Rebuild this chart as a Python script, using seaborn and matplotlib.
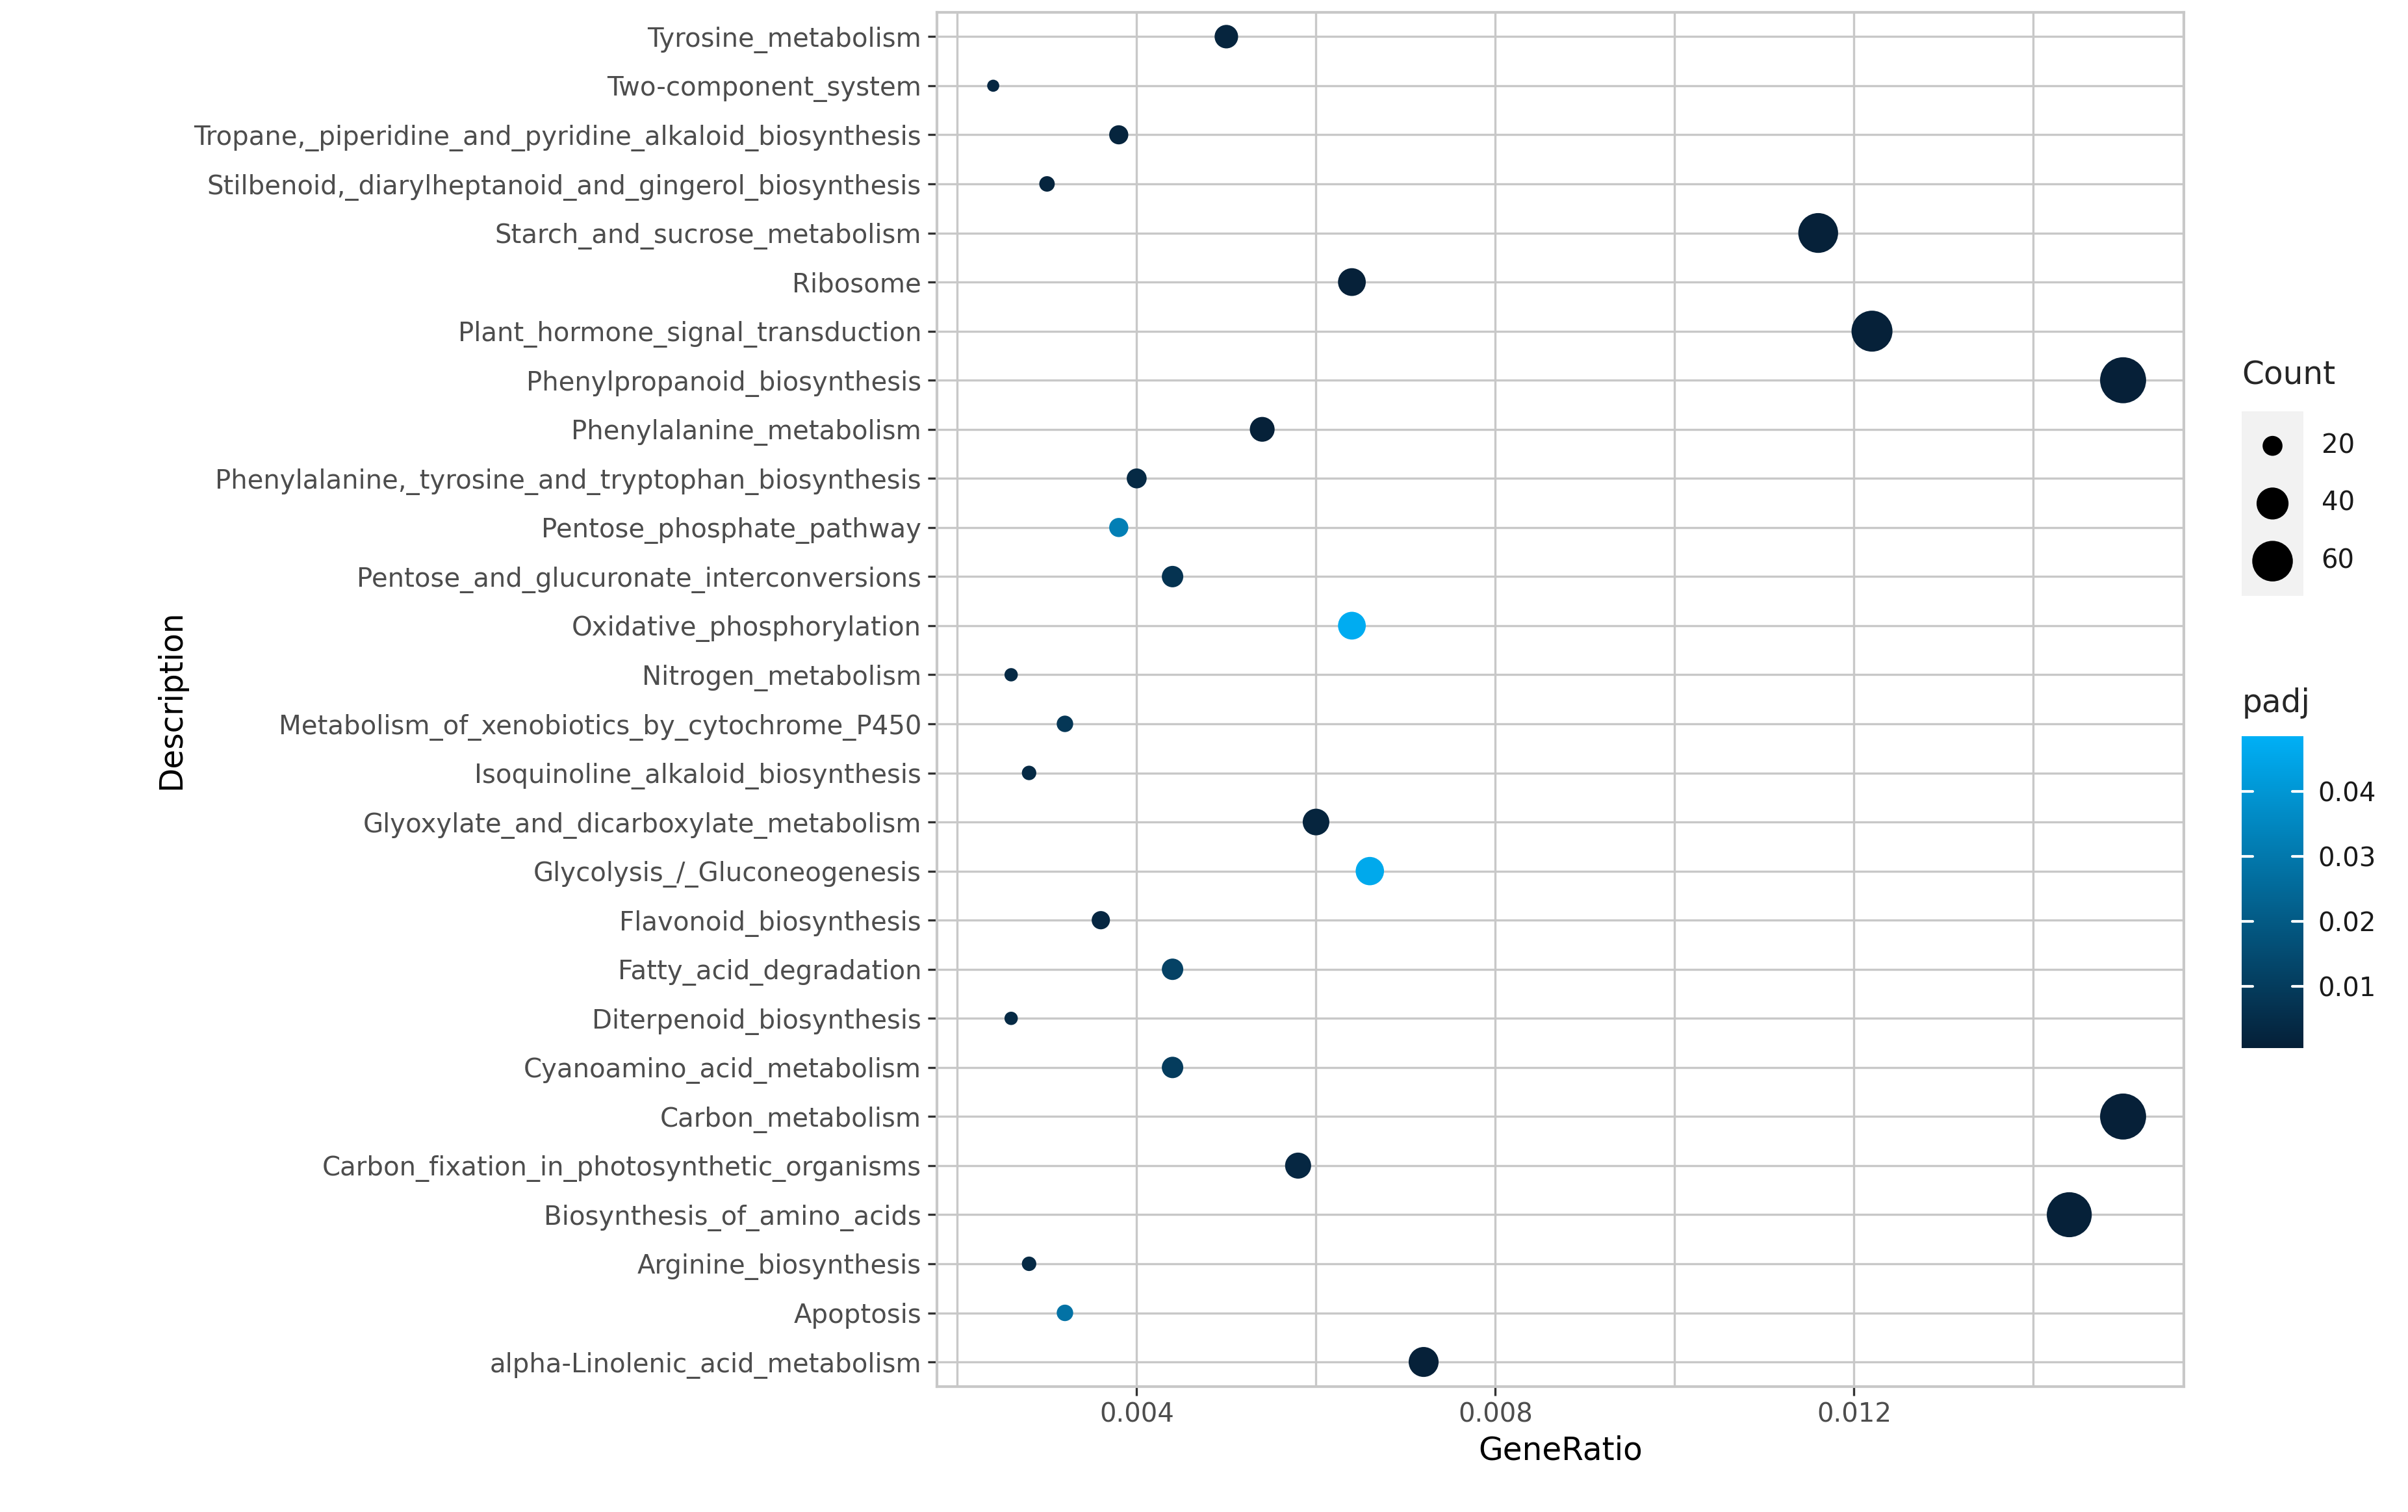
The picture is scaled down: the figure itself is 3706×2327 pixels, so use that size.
import numpy as np
import pandas as pd
import matplotlib
matplotlib.use("Agg")
import matplotlib.pyplot as plt
import seaborn as sns
from matplotlib.colors import LinearSegmentedColormap, Normalize

# pathways, top to bottom as drawn
descriptions = [
    "Tyrosine_metabolism", "Two-component_system",
    "Tropane,_piperidine_and_pyridine_alkaloid_biosynthesis",
    "Stilbenoid,_diarylheptanoid_and_gingerol_biosynthesis",
    "Starch_and_sucrose_metabolism", "Ribosome",
    "Plant_hormone_signal_transduction", "Phenylpropanoid_biosynthesis",
    "Phenylalanine_metabolism",
    "Phenylalanine,_tyrosine_and_tryptophan_biosynthesis",
    "Pentose_phosphate_pathway", "Pentose_and_glucuronate_interconversions",
    "Oxidative_phosphorylation", "Nitrogen_metabolism",
    "Metabolism_of_xenobiotics_by_cytochrome_P450",
    "Isoquinoline_alkaloid_biosynthesis",
    "Glyoxylate_and_dicarboxylate_metabolism",
    "Glycolysis_/_Gluconeogenesis", "Flavonoid_biosynthesis",
    "Fatty_acid_degradation", "Diterpenoid_biosynthesis",
    "Cyanoamino_acid_metabolism", "Carbon_metabolism",
    "Carbon_fixation_in_photosynthetic_organisms",
    "Biosynthesis_of_amino_acids", "Arginine_biosynthesis", "Apoptosis",
    "alpha-Linolenic_acid_metabolism",
]
gene_ratio = [0.0050, 0.0024, 0.0038, 0.0030, 0.0116, 0.0064, 0.0122, 0.0150,
              0.0054, 0.0040, 0.0038, 0.0044, 0.0064, 0.0026, 0.0032, 0.0028,
              0.0060, 0.0066, 0.0036, 0.0044, 0.0026, 0.0044, 0.0150, 0.0058,
              0.0144, 0.0028, 0.0032, 0.0072]
counts = [25, 12, 19, 15, 58, 32, 61, 75, 27, 20, 19, 22, 32, 13, 16, 14,
          30, 33, 18, 22, 13, 22, 75, 29, 72, 14, 16, 36]
padj = [0.002, 0.003, 0.002, 0.002, 0.001, 0.001, 0.001, 0.0005, 0.001, 0.004,
        0.032, 0.007, 0.047, 0.004, 0.008, 0.004, 0.002, 0.046, 0.003, 0.012,
        0.004, 0.010, 0.0005, 0.003, 0.001, 0.004, 0.028, 0.001]

df = pd.DataFrame({"Description": descriptions, "GeneRatio": gene_ratio,
                   "Count": counts, "padj": padj})

sns.set_theme(style="whitegrid")
plt.rcParams["font.family"] = ["DejaVu Sans"]

cmap = LinearSegmentedColormap.from_list("padj", ["#062038", "#00B0F6"])
norm = Normalize(vmin=0.0005, vmax=0.0485)
cmin, cmax, smin, smax = 12, 75, 45, 650


def size_of(c):
    return smin + (c - cmin) / (cmax - cmin) * (smax - smin)


fig = plt.figure(figsize=(18.53, 11.635), dpi=200)
ax = fig.add_axes([0.389, 0.083, 0.518, 0.909])
sns.scatterplot(data=df, x="GeneRatio", y="Description", hue="padj",
                palette=cmap, hue_norm=norm, size="Count",
                sizes=(smin, smax), size_norm=(cmin, cmax),
                legend=False, linewidth=0, ax=ax)
ax.set_xlim(0.00177, 0.01568)
ax.set_ylim(len(descriptions) - 0.5, -0.5)
ax.set_xticks([0.004, 0.008, 0.012])
ax.set_xticks([0.002, 0.006, 0.010, 0.014], minor=True)
ax.set_xticklabels(["0.004", "0.008", "0.012"])
ax.grid(True, which="both", color="#C8C8C8", linewidth=1.2)
ax.set_facecolor("white")
for s in ax.spines.values():
    s.set_color("#C8C8C8")
    s.set_linewidth(1.5)
ax.tick_params(axis="both", which="major", length=5, width=1.2, color="#333333",
               labelsize=14.5, labelcolor="#4D4D4D", left=True, bottom=True)
ax.tick_params(axis="x", which="minor", length=0)
ax.set_xlabel("GeneRatio", fontsize=17.5, color="black")
ax.set_ylabel("Description", fontsize=17.5, color="black")

# Count legend
fig.text(0.931, 0.752, "Count", fontsize=17.5, va="center")
lax = fig.add_axes([0.931, 0.606, 0.0255, 0.122])
lax.set_facecolor("#F2F2F2")
lvals = [20, 40, 60]
lax.scatter([0, 0, 0], [2, 1, 0], s=[size_of(v) for v in lvals], color="black",
            linewidth=0)
lax.set_xlim(-1, 1)
lax.set_ylim(-0.6, 2.6)
lax.set_xticks([])
lax.set_yticks([])
lax.grid(False)
for s in lax.spines.values():
    s.set_visible(False)
for i, v in enumerate(lvals):
    fig.text(0.964, 0.606 + 0.122 * ((2 - i) + 0.6) / 3.2, str(v),
             fontsize=14.5, color="#1A1A1A", va="center")

# padj colourbar
fig.text(0.931, 0.535, "padj", fontsize=17.5, va="center")
cax = fig.add_axes([0.931, 0.307, 0.0255, 0.206])
grad = np.linspace(norm.vmin, norm.vmax, 256).reshape(-1, 1)
cax.imshow(grad, aspect="auto", cmap=cmap, norm=norm, origin="lower",
           extent=[0, 1, norm.vmin, norm.vmax])
cax.set_xticks([])
cax.yaxis.tick_right()
ticks = [0.01, 0.02, 0.03, 0.04]
cax.set_yticks(ticks)
cax.set_yticklabels([f"{t:.2f}" for t in ticks])
cax.tick_params(axis="y", length=0, labelsize=14.5, labelcolor="#1A1A1A", pad=8)
cax.grid(False)
for t in ticks:
    cax.plot([0, 0.18], [t, t], color="white", linewidth=1.5)
    cax.plot([0.82, 1], [t, t], color="white", linewidth=1.5)
cax.set_xlim(0, 1)
cax.set_ylim(norm.vmin, norm.vmax)
for s in cax.spines.values():
    s.set_visible(False)

fig.savefig("out.png", dpi=200, facecolor="white")
